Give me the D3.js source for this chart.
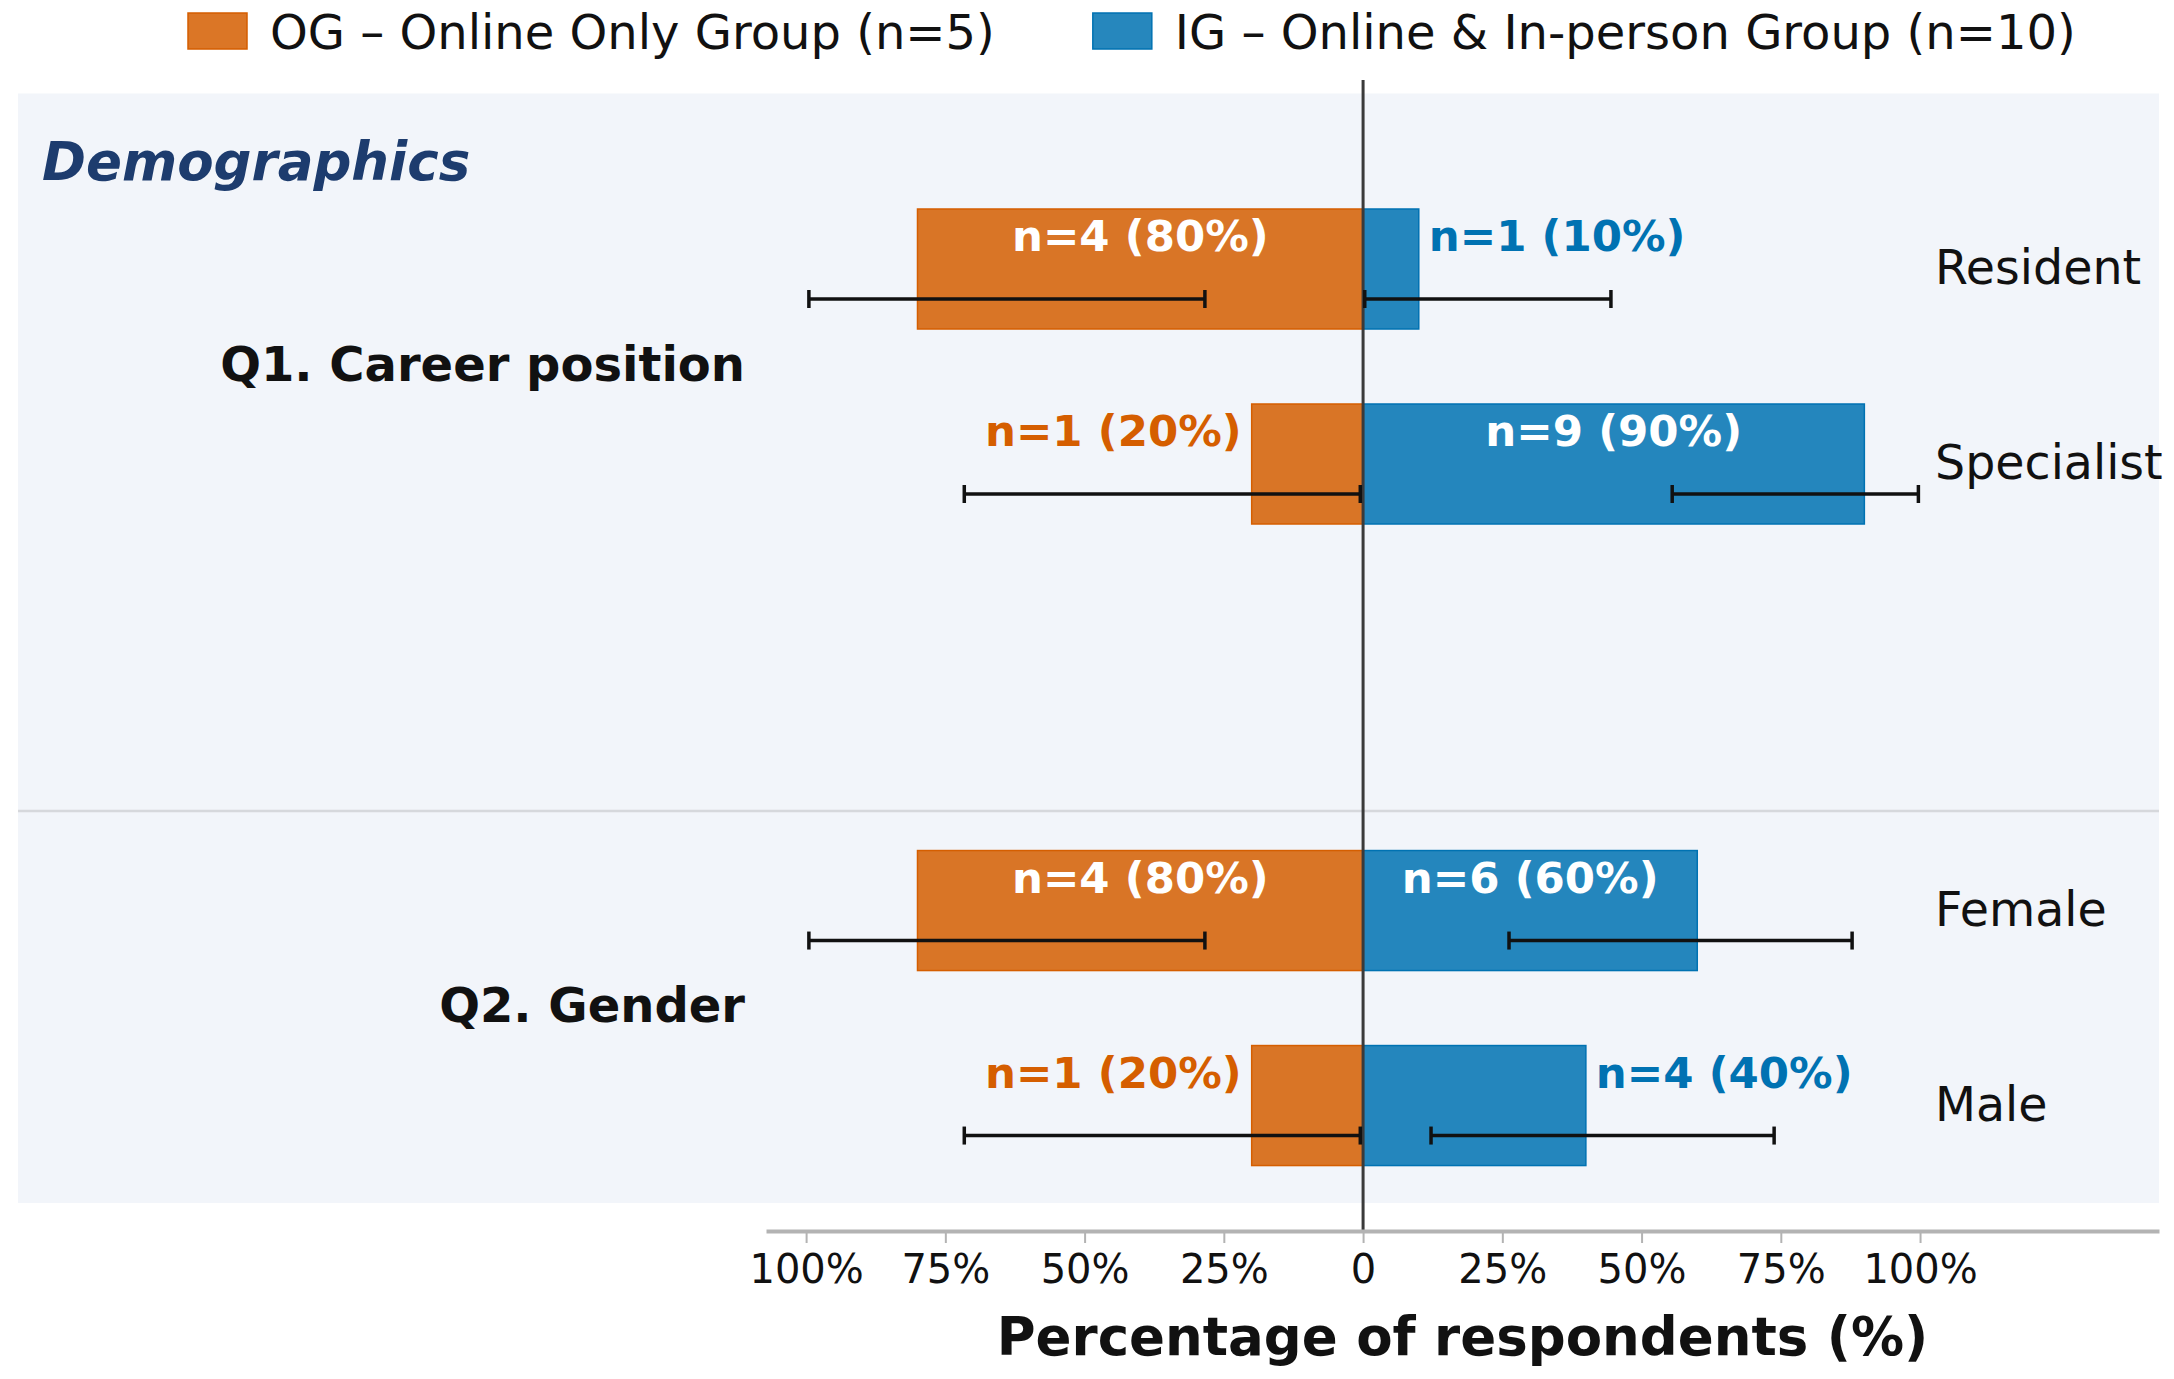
<!DOCTYPE html>
<html>
<head>
<meta charset="utf-8">
<script src="https://cdn.jsdelivr.net/npm/d3@7"></script>
<style>
    body { margin: 0; background: #fff; }
    svg { display: block; font-family: 'DejaVu Sans', sans-serif; }
</style>
</head>
<body>
<svg id="chart" width="2174" height="1379"></svg>
<script>
// chart values
const seriesNames = ['OG – Online Only Group (n=5)', 'IG – Online & In-person Group (n=10)'];
const groupLabels = ['Q1. Career position', 'Q2. Gender'];
const categories = ['Resident', 'Specialist', 'Female', 'Male'];
const categoryGroup = [0, 0, 1, 1];
const ogCounts = [4, 1, 4, 1];
const igCounts = [1, 9, 6, 4];
const ogPct = [80, 20, 80, 20];
const igPct = [10, 90, 60, 40];
const ogLow = [28.4, 0.5, 28.4, 0.5];
const ogHigh = [99.5, 71.6, 99.5, 71.6];
const igLow = [0.3, 55.5, 26.2, 12.2];
const igHigh = [44.5, 99.7, 87.8, 73.8];
const tickValues = [-100, -75, -50, -25, 0, 25, 50, 75, 100];

const colors = ['#D55E00', '#0072B2'];

const width = 2174;
const height = 1379;

const svg = d3.select('#chart');

const x = d3.scaleLinear().domain([-107.2, 142.9]).range([766, 2159]);
const y = d3.scaleLinear().domain([0, 1]).range([269, 464]);

// row slots: group offset + index inside the group
const groupOffset = [0, 3.29];
const groupExtent = [[-0.9, 2.78], [2.78, 4.79]];
const slot = categories.map((c, i) => {
    const before = categories.slice(0, i).filter((d, j) => categoryGroup[j] === categoryGroup[i]).length;
    return groupOffset[categoryGroup[i]] + before;
});

const barH = 120;

// panels
svg.append('g').selectAll('rect')
    .data(groupExtent)
    .enter()
    .append('rect')
    .attr('x', 18)
    .attr('width', 2159 - 18)
    .attr('y', d => y(d[0]))
    .attr('height', d => y(d[1]) - y(d[0]))
    .attr('fill', '#f2f5fa');

svg.append('line')
    .attr('x1', 18).attr('x2', 2159)
    .attr('y1', y(groupExtent[1][0])).attr('y2', y(groupExtent[1][0]))
    .attr('stroke', '#d6d8dc')
    .attr('stroke-width', 2.5);

svg.append('text')
    .attr('x', 42)
    .attr('y', 180)
    .attr('font-size', 53)
    .attr('font-weight', 'bold')
    .attr('font-style', 'italic')
    .attr('fill', '#1d3c6e')
    .text('Demographics');

// group labels
groupLabels.forEach((label, g) => {
    const rows = slot.filter((s, i) => categoryGroup[i] === g);
    const mid = d3.mean(rows);
    svg.append('text')
        .attr('x', 745)
        .attr('y', y(mid) + 14)
        .attr('text-anchor', 'end')
        .attr('font-size', 48)
        .attr('font-weight', 'bold')
        .attr('fill', '#111')
        .text(label);
});

// category labels
svg.append('g').selectAll('text')
    .data(categories)
    .enter()
    .append('text')
    .attr('x', 1935)
    .attr('y', (d, i) => y(slot[i]) + 15)
    .attr('font-size', 47.5)
    .attr('fill', '#111')
    .text(d => d);

// bars
const series = [
    { sign: -1, pct: ogPct, counts: ogCounts, low: ogLow, high: ogHigh, color: colors[0] },
    { sign: 1, pct: igPct, counts: igCounts, low: igLow, high: igHigh, color: colors[1] }
];

series.forEach(s => {
    const rows = categories.map((c, i) => ({ i, v: s.pct[i], n: s.counts[i], lo: s.low[i], hi: s.high[i] }));
    const g = svg.append('g');

    g.selectAll('rect')
        .data(rows)
        .enter()
        .append('rect')
        .attr('x', d => Math.min(x(0), x(s.sign * d.v)))
        .attr('width', d => Math.abs(x(s.sign * d.v) - x(0)))
        .attr('y', d => y(slot[d.i]) - barH / 2)
        .attr('height', barH)
        .attr('fill', s.color)
        .attr('fill-opacity', 0.85)
        .attr('stroke', s.color)
        .attr('stroke-width', 1.5);

    g.selectAll('text')
        .data(rows)
        .enter()
        .append('text')
        .attr('x', d => {
            if (d.v >= 50) return x(s.sign * d.v / 2);
            return x(s.sign * d.v) + s.sign * 10;
        })
        .attr('y', d => y(slot[d.i]) - 18)
        .attr('text-anchor', d => d.v >= 50 ? 'middle' : (s.sign < 0 ? 'end' : 'start'))
        .attr('font-size', 43.5)
        .attr('font-weight', 'bold')
        .attr('fill', d => d.v >= 50 ? '#fff' : s.color)
        .text(d => `n=${d.n} (${d.v}%)`);
});

// zero line
svg.append('line')
    .attr('x1', x(0)).attr('x2', x(0))
    .attr('y1', 80).attr('y2', 1231)
    .attr('stroke', '#3a3a3a')
    .attr('stroke-width', 3);

// error bars
series.forEach(s => {
    const rows = categories.map((c, i) => ({ i, lo: s.low[i], hi: s.high[i] }));
    const eb = svg.append('g')
        .attr('stroke', '#111')
        .attr('stroke-width', 3.5);
    const yc = d => y(slot[d.i]) + 30;
    eb.selectAll('line.span')
        .data(rows)
        .enter()
        .append('line')
        .attr('class', 'span')
        .attr('x1', d => x(s.sign * d.lo)).attr('x2', d => x(s.sign * d.hi))
        .attr('y1', yc).attr('y2', yc);
    ['lo', 'hi'].forEach(k => {
        eb.selectAll('line.cap-' + k)
            .data(rows)
            .enter()
            .append('line')
            .attr('class', 'cap-' + k)
            .attr('x1', d => x(s.sign * d[k])).attr('x2', d => x(s.sign * d[k]))
            .attr('y1', d => yc(d) - 9).attr('y2', d => yc(d) + 9);
    });
});

// x axis
const axis = svg.append('g')
    .attr('transform', 'translate(0,1231)')
    .call(d3.axisBottom(x)
        .tickValues(tickValues)
        .tickSize(12)
        .tickSizeOuter(0)
        .tickPadding(12)
        .tickFormat(d => d === 0 ? '0' : Math.abs(d) + '%'));

axis.select('.domain')
    .attr('stroke', '#b3b3b3')
    .attr('stroke-width', 4);
axis.selectAll('.tick line')
    .attr('stroke', '#b3b3b3')
    .attr('stroke-width', 2);
axis.selectAll('.tick text')
    .attr('font-family', 'DejaVu Sans')
    .attr('font-size', 40)
    .attr('fill', '#111');

svg.append('text')
    .attr('x', (766 + 2159) / 2)
    .attr('y', 1355)
    .attr('text-anchor', 'middle')
    .attr('font-size', 53)
    .attr('font-weight', 'bold')
    .attr('fill', '#111')
    .text('Percentage of respondents (%)');

// legend
const legend = svg.append('g');
let lx = 188;
seriesNames.forEach((name, i) => {
    legend.append('rect')
        .attr('x', lx)
        .attr('y', 13)
        .attr('width', 59)
        .attr('height', 36)
        .attr('fill', colors[i])
        .attr('fill-opacity', 0.85)
        .attr('stroke', colors[i])
        .attr('stroke-width', 1.5);
    const t = legend.append('text')
        .attr('x', lx + 82)
        .attr('y', 49)
        .attr('font-size', 48)
        .attr('fill', '#111')
        .text(name);
    lx = lx + 82 + t.node().getComputedTextLength() + 98;
});
</script>
</body>
</html>
